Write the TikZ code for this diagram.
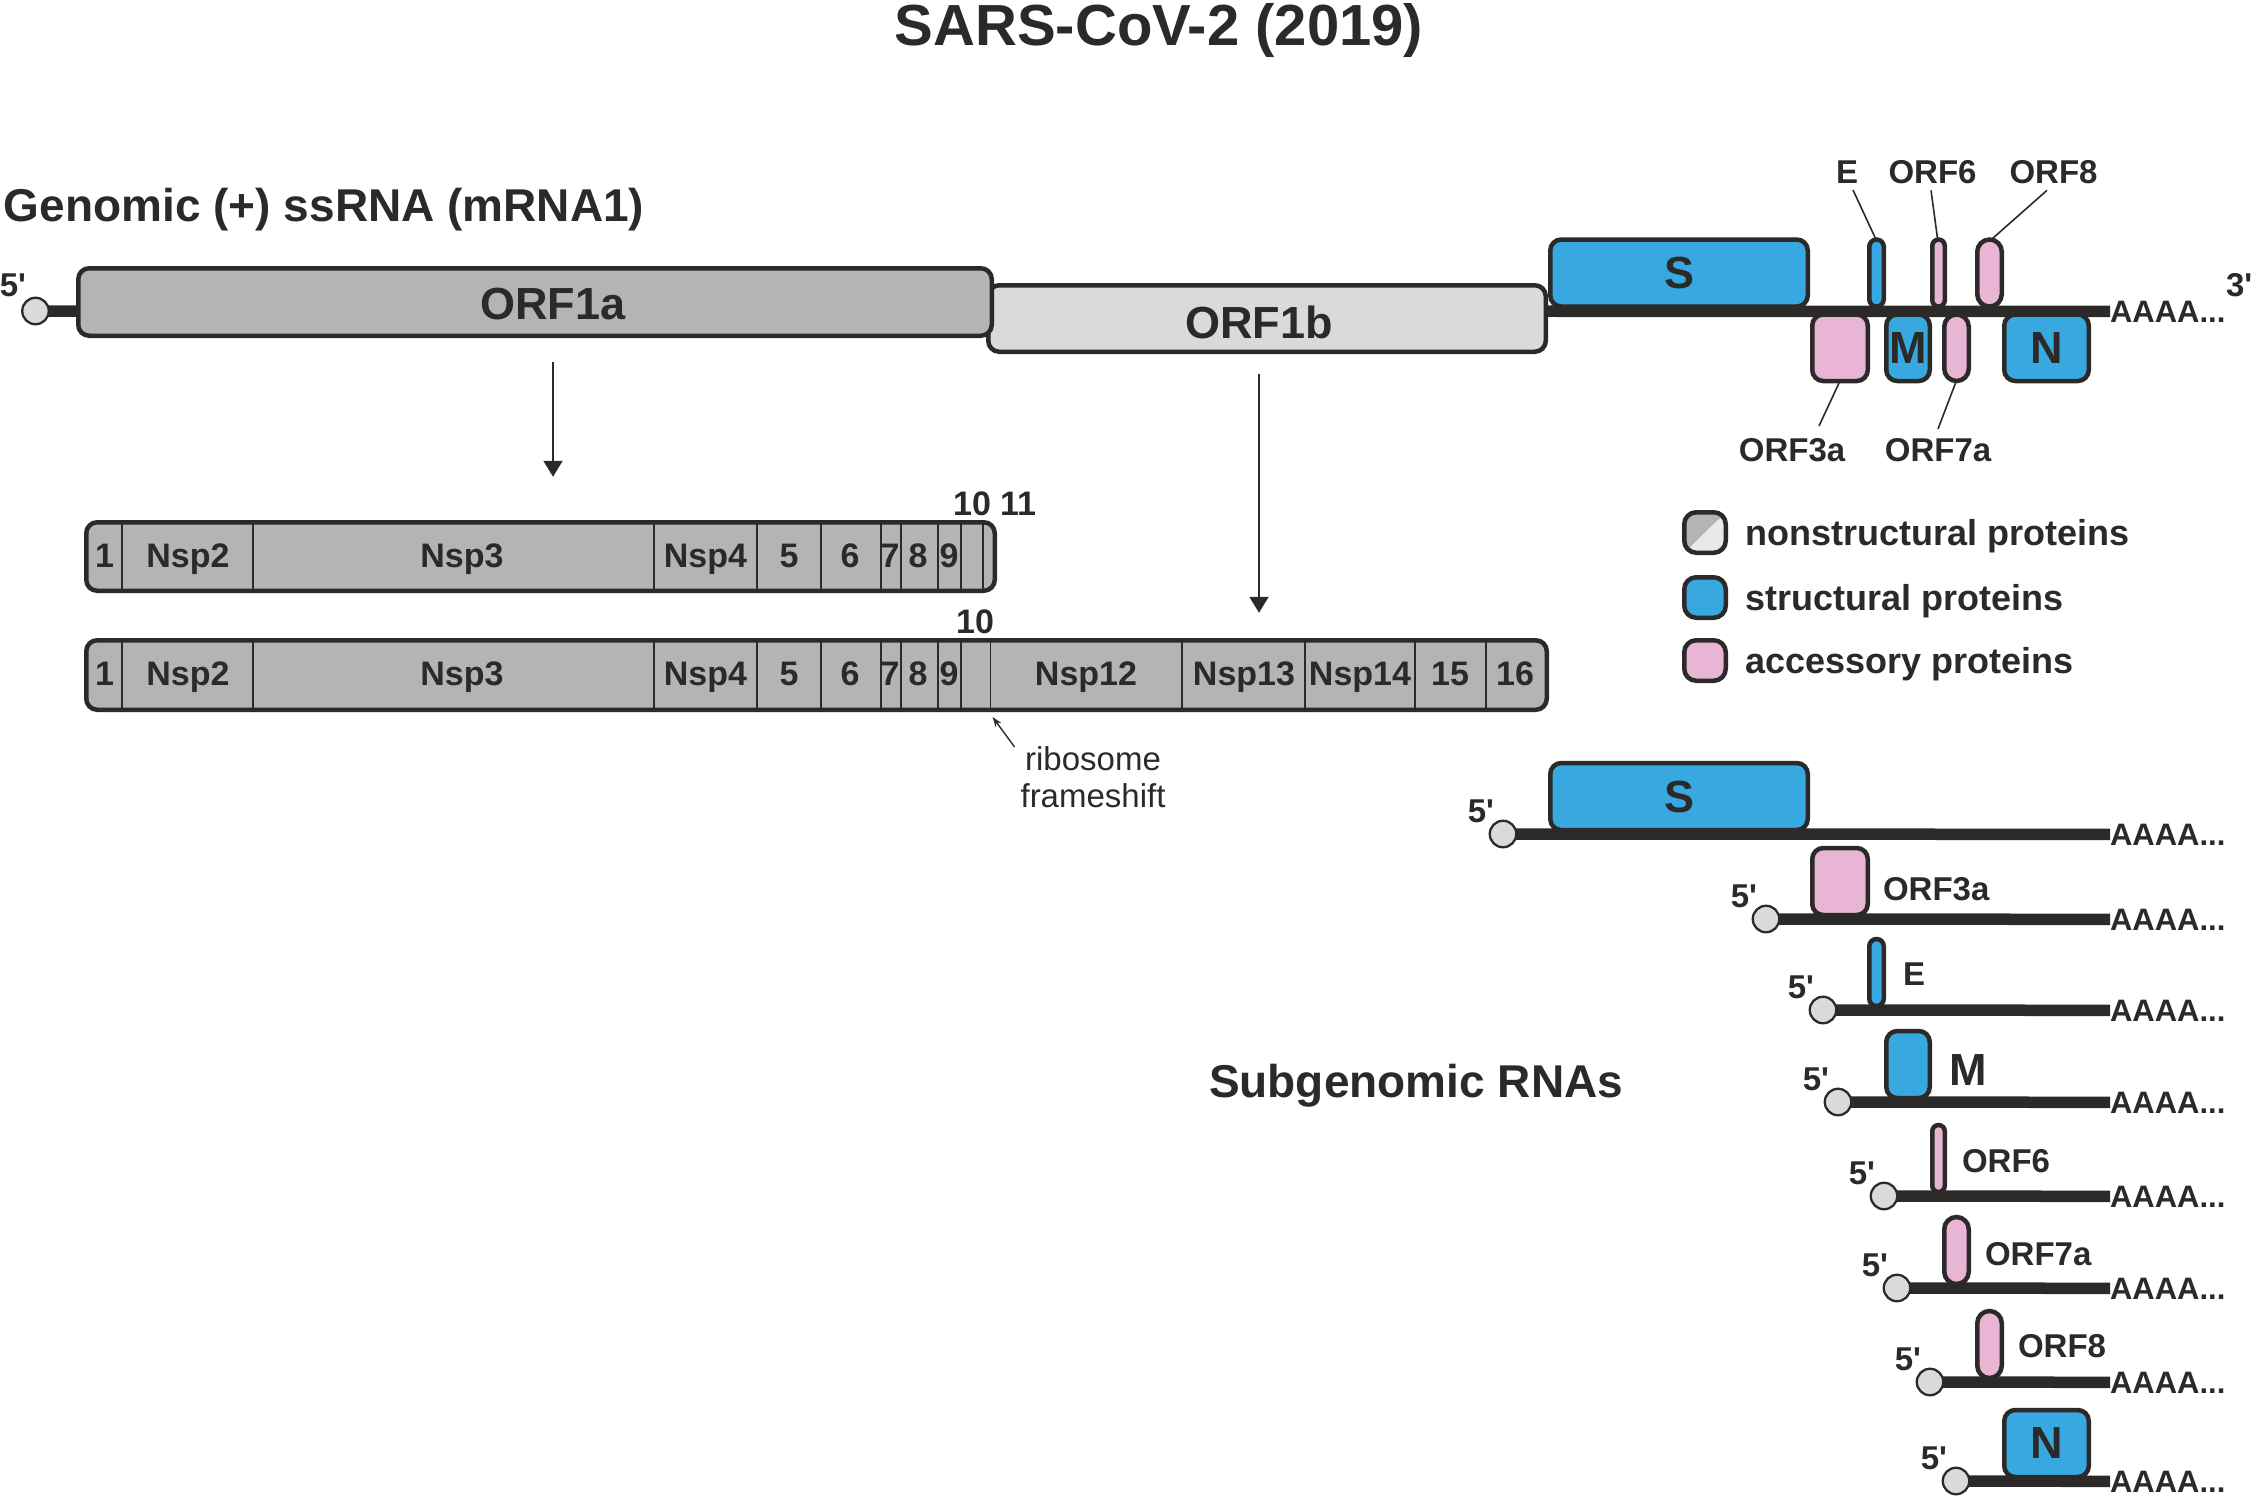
\documentclass[tikz,border=0pt]{standalone}
\usepackage{fontspec}
\setmainfont{Liberation Sans}[Ligatures=TeXOff]
\usetikzlibrary{arrows.meta,backgrounds,calc}
\definecolor{dk}{HTML}{2B2A29}
\definecolor{nspg}{HTML}{B3B4B3}
\definecolor{lgray}{HTML}{D9DAD9}
\definecolor{llgray}{HTML}{E8E9E8}
\definecolor{blu}{HTML}{38A9E0}
\definecolor{pnk}{HTML}{E8B5D4}
\newcommand\myfs[1]{\fontsize{#1}{#1}\selectfont}
\begin{document}
\begin{tikzpicture}[x=1pt,y=-1pt,
  txt/.style={text=dk, inner sep=0pt, outer sep=0pt},
  gbox/.style={draw=dk, line width=4.5pt, rounded corners=#1, inner sep=0pt, outer sep=0pt, text=dk, font=\bfseries\myfs{45}},
  gbox/.default=11pt,
  cap5/.style={circle, draw=dk, fill=lgray, line width=2.3pt, minimum size=26.5pt, inner sep=0pt},
  rna/.style={draw=dk, line width=11.5pt},
  lead/.style={draw=dk, line width=1.6pt},
  divline/.style={draw=dk, line width=1.5pt},
  bigarr/.style={draw=dk, line width=2pt, -{Triangle[length=16pt,width=19pt]}},
  thinarr/.style={draw=dk, line width=1.4pt, -{Stealth[length=10pt,width=7pt]}},
  five/.style={txt, font=\bfseries\myfs{33}, anchor=base east},
  polya/.style={txt, font=\bfseries\myfs{31}, anchor=base west},
  orflab/.style={txt, font=\bfseries\myfs{33}},
  nsplab/.style={txt, font=\bfseries\myfs{34}, anchor=base},
]
\useasboundingbox (0,0) rectangle (2253,1496);

% ---------- titles ----------
\node[txt, font=\bfseries\myfs{58}, anchor=base] (title) at (1159,46) {SARS-CoV-2 (2019)};
\node[txt, font=\bfseries\myfs{46}, anchor=base west] (genomic) at (4,221) {Genomic (+) ssRNA (mRNA1)};
\node[txt, font=\bfseries\myfs{46}, anchor=base west] (subg) at (1209,1097) {Subgenomic RNAs};

% ---------- genomic RNA ----------
\node[gbox, fill=lgray, minimum width=557.5pt, minimum height=66.5pt] (orf1b) at (1267,318.5) {};
\node[gbox, fill=nspg, minimum width=913.5pt, minimum height=67.5pt] (orf1a) at (535,302) {};
\node[txt, font=\bfseries\myfs{45}, anchor=base] (orf1alab) at (553,319) {ORF1a};
\node[txt, font=\bfseries\myfs{45}, anchor=base] (orf1blab) at (1259,338) {ORF1b};

\node[gbox, fill=blu, minimum width=257.5pt, minimum height=67pt] (gS) at (1679,273) {S};
\node[gbox=7.25pt, fill=blu, minimum width=14.5pt, minimum height=67pt] (gE) at (1876.5,273) {};
\node[gbox=6.25pt, fill=pnk, minimum width=12.5pt, minimum height=67pt] (g6) at (1938.5,273) {};
\node[gbox=12.25pt, fill=pnk, minimum width=24.5pt, minimum height=67pt] (g8) at (1989.5,273) {};
\node[gbox, fill=pnk, minimum width=55.5pt, minimum height=66.5pt] (g3a) at (1840,347.75) {};
\node[gbox, fill=blu, minimum width=43.5pt, minimum height=66.5pt] (gM) at (1908,347.75) {M};
\node[gbox=12.25pt, fill=pnk, minimum width=24.5pt, minimum height=66.5pt] (g7a) at (1956.5,347.75) {};
\node[gbox, fill=blu, minimum width=84.5pt, minimum height=66.5pt] (gN) at (2046.5,347.75) {N};

\node[cap5] (g5c) at (35.5,311) {};
\node[five] (g5) at (26,296) {5'};
\node[polya] (gA) at (2110,322) {AAAA...};
\node[txt, font=\bfseries\myfs{33}, anchor=base west] (g3) at (2226,296) {3'};

\begin{pgfonlayer}{background}
\draw[rna] (g5c.center) -- (gA.west);
\end{pgfonlayer}

% labels of the small ORFs
\node[orflab, anchor=base] (lE) at (1847,183) {E};
\node[orflab, anchor=base] (l6) at (1932.5,183) {ORF6};
\node[orflab, anchor=base] (l8) at (2053.5,183) {ORF8};
\node[orflab, anchor=base] (l3a) at (1792,461) {ORF3a};
\node[orflab, anchor=base] (l7a) at (1938,461) {ORF7a};
\draw[lead] ($(lE.south)+(6,7)$) -- ($(gE.north)+(-1,-1)$);
\draw[lead] ($(l6.south)+(-1.5,7)$) -- ($(g6.north)+(-1,-1)$);
\draw[lead] ($(l8.south)+(-6.5,7)$) -- ($(g8.north)+(3,-1)$);
\draw[lead] ($(g3a.south)+(-1,2)$) -- ($(l3a.north)+(27,-12)$);
\draw[lead] ($(g7a.south)+(-1,2)$) -- ($(l7a.north)+(0,-9)$);

% ---------- arrows to polyproteins ----------
\draw[bigarr] (orf1alab |- orf1a.south) ++(0,26) -- ++(0,115);
\draw[bigarr] (orf1blab |- orf1b.south) ++(0,22) -- ++(0,239);

% ---------- pp1a ----------
\node[gbox, fill=nspg, minimum width=908.5pt, minimum height=68.5pt] (pp1a) at (540.5,556.5) {};
\foreach \x in {122,253,654,757,821,881,901,938,961,983}
  \draw[divline] (\x,523.5) -- (\x,589.5);
\foreach \t/\x in {1/104.5,Nsp2/188,Nsp3/462,Nsp4/705.5,5/789,6/850,7/890,8/918,9/949}
  \node[nsplab] (a\t) at (\x,567) {\t};
\node[nsplab] (a10) at (972,515) {10};
\node[nsplab] (a11) at (1018,515) {11};

% ---------- pp1ab ----------
\node[gbox, fill=nspg, minimum width=1460.5pt, minimum height=69.5pt] (pp1ab) at (816.5,675) {};
\foreach \x in {122,253,654,757,821,881,901,938,961,990.6,1182,1305,1415,1486}
  \draw[divline] (\x,642) -- (\x,708);
\foreach \t/\x in {1/104.5,Nsp2/188,Nsp3/462,Nsp4/705.5,5/789,6/850,7/890,8/918,9/949,Nsp12/1086,Nsp13/1244,Nsp14/1360,15/1450,16/1515}
  \node[nsplab] (b\t) at (\x,685) {\t};
\node[nsplab] (b10) at (975,633) {10};

% ribosome frameshift
\node[txt, font=\fontsize{33}{37}\selectfont, align=center, anchor=north] (ribo) at (1093,747) {ribosome\\frameshift};
\draw[thinarr] ($(ribo.north west)+(-6,0)$) -- ++(-22,-30);

% ---------- legend ----------
\node[gbox=12pt, fill=nspg, minimum width=41.5pt, minimum height=40.5pt,
  path picture={\fill[llgray] (path picture bounding box.south west) -- (path picture bounding box.north east) -- (path picture bounding box.south east) -- cycle;}] (legns) at (1705,532.5) {};
\node[gbox=12pt, fill=blu, minimum width=41.5pt, minimum height=40.5pt] (legst) at (1705,597.5) {};
\node[gbox=12pt, fill=pnk, minimum width=41.5pt, minimum height=40.5pt] (legac) at (1705,660.5) {};
\node[txt, font=\bfseries\myfs{36}, anchor=base west] (tns) at (1745,545) {nonstructural proteins};
\node[txt, font=\bfseries\myfs{36}, anchor=base west] (tst) at (1745,610) {structural proteins};
\node[txt, font=\bfseries\myfs{36}, anchor=base west] (tac) at (1745,673) {accessory proteins};

% ---------- subgenomic RNAs ----------
% S
\node[gbox, fill=blu, minimum width=257.5pt, minimum height=67pt] (sS) at (1679,796.5) {S};
\node[cap5] (c1) at (1503,834) {};
\node[five] (f1) at (1494,822) {5'};
\node[polya] (p1) at (2110,845) {AAAA...};
% ORF3a
\node[gbox, fill=pnk, minimum width=55.5pt, minimum height=67pt] (s3a) at (1840,881.5) {};
\node[orflab, anchor=base west] (t3a) at (1883,900) {ORF3a};
\node[cap5] (c2) at (1766,919) {};
\node[five] (f2) at (1757,907) {5'};
\node[polya] (p2) at (2110,930) {AAAA...};
% E
\node[gbox=7.25pt, fill=blu, minimum width=14.5pt, minimum height=67pt] (sE) at (1876.5,972.5) {};
\node[orflab, anchor=base west] (tE) at (1903,985) {E};
\node[cap5] (c3) at (1823,1010) {};
\node[five] (f3) at (1814,998) {5'};
\node[polya] (p3) at (2110,1021) {AAAA...};
% M
\node[gbox, fill=blu, minimum width=43.5pt, minimum height=67pt] (sM) at (1908,1064.5) {};
\node[txt, font=\bfseries\myfs{45}, anchor=base west] (tM) at (1949,1085) {M};
\node[cap5] (c4) at (1838,1102) {};
\node[five] (f4) at (1829,1090) {5'};
\node[polya] (p4) at (2110,1113) {AAAA...};
% ORF6
\node[gbox=6.25pt, fill=pnk, minimum width=12.5pt, minimum height=67pt] (s6) at (1938.5,1158.5) {};
\node[orflab, anchor=base west] (t6) at (1962,1172) {ORF6};
\node[cap5] (c5) at (1884,1196) {};
\node[five] (f5) at (1875,1184) {5'};
\node[polya] (p5) at (2110,1207) {AAAA...};
% ORF7a
\node[gbox=12.25pt, fill=pnk, minimum width=24.5pt, minimum height=67pt] (s7a) at (1956.5,1250.5) {};
\node[orflab, anchor=base west] (t7a) at (1985,1265) {ORF7a};
\node[cap5] (c6) at (1897,1288) {};
\node[five] (f6) at (1888,1276) {5'};
\node[polya] (p6) at (2110,1299) {AAAA...};
% ORF8
\node[gbox=12.25pt, fill=pnk, minimum width=24.5pt, minimum height=67pt] (s8) at (1989.5,1344.5) {};
\node[orflab, anchor=base west] (t8) at (2018,1357) {ORF8};
\node[cap5] (c7) at (1930,1382) {};
\node[five] (f7) at (1921,1370) {5'};
\node[polya] (p7) at (2110,1393) {AAAA...};
% N
\node[gbox, fill=blu, minimum width=84.5pt, minimum height=67pt] (sN) at (2046.5,1443.5) {N};
\node[cap5] (c8) at (1956,1481) {};
\node[five] (f8) at (1947,1469) {5'};
\node[polya] (p8) at (2110,1492) {AAAA...};

\begin{pgfonlayer}{background}
\foreach \i in {1,...,8}
  \draw[rna] (c\i.center) -- (p\i.west);
\end{pgfonlayer}
\end{tikzpicture}
\end{document}
